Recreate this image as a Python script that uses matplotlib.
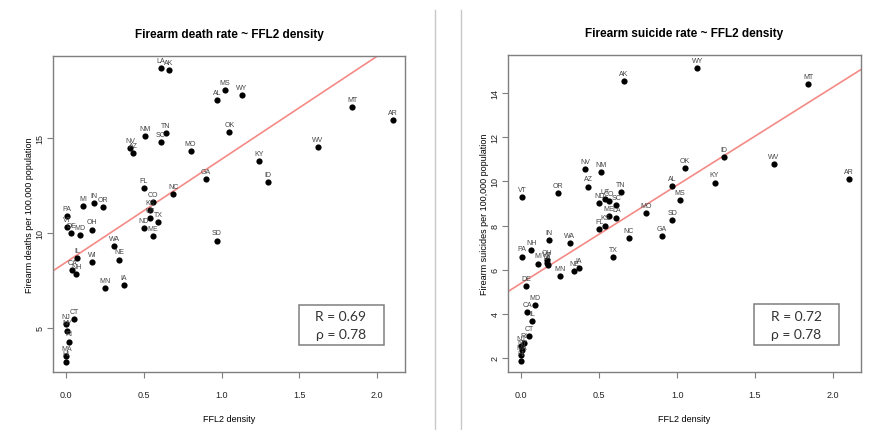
import matplotlib
matplotlib.use("Agg")
import matplotlib.pyplot as plt
from matplotlib.lines import Line2D
from matplotlib.patches import Rectangle
import numpy as np

plt.rcParams['font.family'] = ['Liberation Sans', 'DejaVu Sans']

# state data
states = ['AK', 'AL', 'AR', 'AZ', 'CA', 'CO', 'CT', 'DE', 'FL', 'GA',
          'HI', 'IA', 'ID', 'IL', 'IN', 'KS', 'KY', 'LA', 'MA', 'MD',
          'ME', 'MI', 'MN', 'MO', 'MS', 'MT', 'NC', 'ND', 'NE', 'NH',
          'NJ', 'NM', 'NV', 'NY', 'OH', 'OK', 'OR', 'PA', 'RI', 'SC',
          'SD', 'TN', 'TX', 'UT', 'VA', 'VT', 'WA', 'WI', 'WV', 'WY']
ffl2 = [0.66, 0.97, 2.10, 0.43, 0.04, 0.56, 0.05, 0.03, 0.50, 0.90,
        0.00, 0.37, 1.30, 0.07, 0.18, 0.54, 1.24, 0.61, 0.00, 0.09,
        0.56, 0.11, 0.25, 0.80, 1.02, 1.84, 0.69, 0.50, 0.34, 0.065,
        0.00, 0.51, 0.41, 0.005, 0.165, 1.05, 0.235, 0.005, 0.02, 0.61,
        0.97, 0.64, 0.59, 0.54, 0.17, 0.005, 0.31, 0.165, 1.62, 1.13]
death_rate = [18.58, 17.00, 15.93, 14.20, 8.07, 11.65, 5.47, 9.98, 12.38, 12.83,
              3.23, 7.26, 12.67, 8.67, 11.56, 11.19, 13.77, 18.68, 3.54, 9.90,
              9.82, 11.40, 7.09, 14.33, 17.54, 16.63, 12.07, 10.28, 8.60, 7.83,
              5.19, 15.10, 14.46, 4.86, 10.18, 15.33, 11.37, 10.91, 4.28, 14.77,
              9.60, 15.28, 10.56, 10.77, np.nan, 10.30, 9.33, 8.49, 14.51, 17.25]
suicide_rate = [14.57, 9.80, 10.10, 9.77, 4.09, 9.12, 3.00, 5.25, 7.82, 7.53,
                1.85, 6.05, 11.10, 3.65, 7.33, 8.00, 9.95, 8.36, 2.12, 4.38,
                8.41, 6.27, 5.70, 8.55, 9.14, 14.42, 7.44, 9.00, 5.94, 6.88,
                2.53, 10.44, 10.56, 2.33, 6.44, 10.59, 9.47, 6.59, 2.68, 8.94,
                8.25, 9.50, 6.57, 9.19, 6.21, 9.29, 7.20, 6.32, 10.79, 15.15]

death_stats = ['R = 0.69', 'ρ = 0.78']
suicide_stats = ['R = 0.72', 'ρ = 0.78']

xticks = [0.0, 0.5, 1.0, 1.5, 2.0]
death_yticks = [5, 10, 15]
suicide_yticks = [2, 4, 6, 8, 10, 12, 14]

frame = '#7f7f7f'


def panel(ax, y, title, ylabel, yticks, ylim, stats):
    x = np.array(ffl2)
    y = np.array(y, dtype=float)
    ok = ~np.isnan(y)
    xlim = (-0.085, 2.18)

    ax.scatter(x[ok], y[ok], s=20, c='black', linewidths=0, zorder=3)
    for s, xi, yi in zip(states, x, y):
        if np.isnan(yi):
            continue
        ax.annotate(s, (xi, yi), xytext=(0, 5.5), textcoords='offset points',
                    ha='center', va='center', fontsize=5, color='#444444')

    # least squares line
    b, a = np.polyfit(x[ok], y[ok], 1)
    xx = np.array(xlim)
    ax.plot(xx, a + b * xx, color='#f48a86', lw=1.2, zorder=2)

    ax.set_xlim(xlim)
    ax.set_ylim(ylim)
    ax.set_xticks(xticks)
    ax.set_xticklabels(['%.1f' % t for t in xticks])
    ax.set_yticks(yticks)
    ax.set_yticklabels([str(t) for t in yticks], rotation=90, va='center')
    ax.tick_params(direction='out', length=4, width=0.8, color=frame,
                   labelsize=6.5, labelcolor='#222222')
    ax.tick_params(axis='x', pad=9)
    ax.tick_params(axis='y', pad=2)
    for sp in ax.spines.values():
        sp.set_color(frame)
        sp.set_linewidth(1.0)

    ax.set_title(title, fontsize=8.5, fontweight='bold', pad=14)
    ax.set_xlabel('FFL2 density', fontsize=6.5, labelpad=11)
    ax.set_ylabel(ylabel, fontsize=6.5, labelpad=1)

    # correlation box
    ax.add_patch(Rectangle((0.698, 0.085), 0.241, 0.128, transform=ax.transAxes,
                           facecolor='white', edgecolor=frame, lw=1.1, zorder=4))
    ax.text(0.817, 0.177, stats[0], transform=ax.transAxes, ha='center', va='center',
            fontsize=10, family=['Lato', 'DejaVu Sans'], color='#333333', zorder=5)
    ax.text(0.817, 0.119, stats[1], transform=ax.transAxes, ha='center', va='center',
            fontsize=10, family=['Lato', 'DejaVu Sans'], color='#333333', zorder=5)


fig = plt.figure(figsize=(8.84, 4.31), dpi=100)
ax1 = fig.add_axes([53 / 884, 58 / 431, 352 / 884, 316 / 431])
ax2 = fig.add_axes([508 / 884, 58 / 431, 353 / 884, 317 / 431])

panel(ax1, death_rate, 'Firearm death rate ~ FFL2 density',
      'Firearm deaths per 100,000 population', death_yticks, (2.68, 19.32), death_stats)
panel(ax2, suicide_rate, 'Firearm suicide rate ~ FFL2 density',
      'Firearm suicides per 100,000 population', suicide_yticks, (1.35, 15.74), suicide_stats)

# separators between the two slides
for xp in (434.6, 460.6):
    fig.add_artist(Line2D([xp / 884, xp / 884], [0, 1 - 11 / 431],
                          color='#c8c8c8', lw=1.0))

fig.savefig('out.png', dpi=100)
